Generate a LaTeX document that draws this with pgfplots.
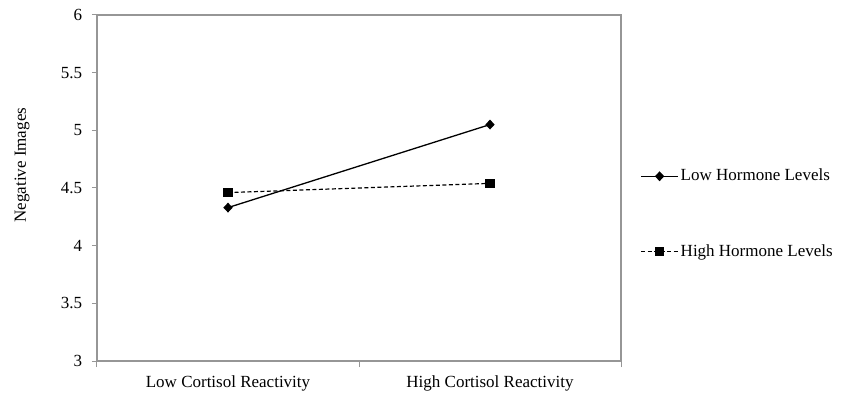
\documentclass[border=0pt]{standalone}
\usepackage{pgfplots}
\pgfplotsset{compat=1.18}
\usepackage{fontspec}
\setmainfont{Liberation Serif}
\definecolor{axgray}{RGB}{150,150,150}
\begin{document}
\fontsize{17bp}{20bp}\selectfont
\begin{tikzpicture}
\begin{axis}[
    scale only axis,
    width=524bp, height=346bp,
    xmin=0.5, xmax=2.5,
    ymin=3, ymax=6,
    ytick={3,3.5,4,4.5,5,5.5,6},
    xtick={1,2},
    xticklabels={Low Cortisol Reactivity, High Cortisol Reactivity},
    minor xtick={0.5,1.5,2.5},
    xtick pos=bottom, ytick pos=left,
    tick align=outside,
    major tick length=5bp,
    minor tick length=6bp,
    every major x tick/.append style={draw=none},
    every tick/.append style={axgray, line width=1bp},
    axis line style={axgray, line width=1.2bp},
    /pgf/number format/assume math mode=true,
    ticklabel style={font=\fontsize{17bp}{20bp}\selectfont},
    yticklabel style={xshift=-4bp},
    xticklabel style={yshift=-4bp},
    ylabel={Negative Images},
    ylabel style={at={(rel axis cs:-0.143,0.566)}, anchor=center, font=\fontsize{17bp}{20bp}\selectfont},
    legend style={at={(1.031,0.425)}, anchor=west, draw=none, fill=none,
        row sep=57bp, font=\fontsize{17bp}{20bp}\selectfont,
        nodes={inner sep=2bp}},
    legend cell align=left,
    legend image code/.code={
        \draw[mark repeat=2,mark phase=2,#1] plot coordinates {(0bp,0bp) (18.5bp,0bp) (37bp,0bp)};
    },
]
\addplot[black, line width=1.3bp, mark=diamond*, mark size=4bp, mark options={solid, fill=black, xscale=1.25}]
    coordinates {(1,4.33) (2,5.05)};
\addlegendentry{Low Hormone Levels}
\addplot[black, line width=1.2bp, dash pattern=on 4bp off 2.5bp, mark=square*, mark size=4.2bp, mark options={solid, fill=black}]
    coordinates {(1,4.46) (2,4.54)};
\addlegendentry{High Hormone Levels}
\coordinate (sw) at (rel axis cs:0,0);
\coordinate (ne) at (rel axis cs:1,1);
\end{axis}
\pgfresetboundingbox
\path ([shift={(-97bp,-40bp)}]sw) rectangle ([shift={(220bp,15bp)}]ne);
\end{tikzpicture}
\end{document}
